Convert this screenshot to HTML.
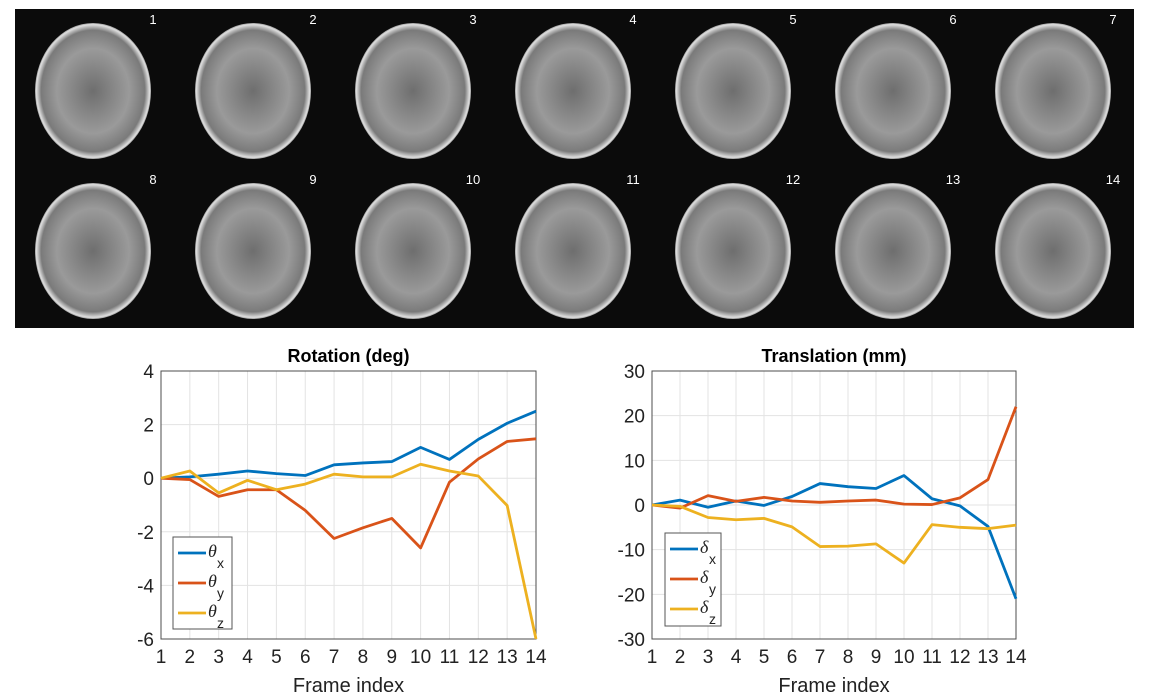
<!DOCTYPE html>
<html><head><meta charset="utf-8"><style>
html,body{margin:0;padding:0;background:#fff;}
svg{display:block;font-family:"Liberation Sans",Arial,sans-serif;}
</style></head><body>
<svg id="root" width="1149" height="699" viewBox="0 0 1149 699">
<defs>
<radialGradient id="brain" cx="50%" cy="50%" r="52%">
<stop offset="0%" stop-color="#6e6e6e"/><stop offset="60%" stop-color="#9a9a9a"/><stop offset="86%" stop-color="#7a7a7a"/><stop offset="94%" stop-color="#e0e0e0"/><stop offset="100%" stop-color="#1a1a1a"/>
</radialGradient>
</defs>
<rect x="15" y="9" width="1119" height="319" fill="#0b0b0b"/>
<g id="frames"></g>
<g id="left"></g>
<g id="right"></g>
</svg>
<script>
const frames = [1,2,3,4,5,6,7,8,9,10,11,12,13,14];
const rotX = [0,0.05,0.15,0.27,0.17,0.1,0.5,0.57,0.62,1.15,0.7,1.45,2.05,2.5];
const rotY = [0,-0.05,-0.68,-0.43,-0.43,-1.2,-2.25,-1.85,-1.5,-2.6,-0.15,0.72,1.37,1.47];
const rotZ = [0,0.27,-0.55,-0.08,-0.43,-0.22,0.15,0.05,0.05,0.52,0.27,0.08,-1.02,-6];
const trX = [0,1.1,-0.5,0.9,-0.1,1.9,4.8,4.1,3.7,6.6,1.4,-0.2,-4.8,-21];
const trY = [0,-0.7,2.1,0.8,1.7,0.9,0.6,0.9,1.1,0.2,0.1,1.6,5.7,22];
const trZ = [0,-0.3,-2.8,-3.3,-3,-4.9,-9.3,-9.2,-8.7,-13,-4.4,-5,-5.3,-4.5];
const rotTicks = [-6,-4,-2,0,2,4];
const trTicks = [-30,-20,-10,0,10,20,30];
const NS="http://www.w3.org/2000/svg";
function mk(tag,attrs,parent){const e=document.createElementNS(NS,tag);for(const k in attrs)e.setAttribute(k,attrs[k]);parent.appendChild(e);return e;}

const fg=document.getElementById('frames');
frames.forEach((f,i)=>{
  const col=i%7,row=Math.floor(i/7);
  const cx=15+col*160+80,cy=9+row*160+82;
  const el=mk('ellipse',{cx:cx-2,cy:cy,rx:58,ry:68,fill:'url(#brain)'},fg);
  
  
  const t=mk('text',{x:15+col*160+138,y:9+row*160+15,fill:'#fff','font-size':13,'text-anchor':'middle'},fg);
  t.textContent=f;
  
  
});

const colors=['#0072BD','#D95319','#EDB120'];
function chart(gid,x0,x1,y0,y1,ymin,ymax,ticks,title,series,sym,legend){
  const g=document.getElementById(gid);
  const xs=v=>x0+(v-1)*(x1-x0)/13;
  const ys=v=>y1-(v-ymin)*(y1-y0)/(ymax-ymin);
  frames.forEach(f=>{
    const l=mk('line',{x1:xs(f),x2:xs(f),y1:y0,y2:y1,stroke:'#e3e3e3','stroke-width':1},g);
    
    
    const t=mk('text',{x:xs(f),y:y1+24,'font-size':19,'text-anchor':'middle',fill:'#222'},g);
    t.textContent=f;
    
    
  });
  ticks.forEach(v=>{
    const l=mk('line',{x1:x0,x2:x1,y1:ys(v),y2:ys(v),stroke:'#e3e3e3','stroke-width':1},g);
    
    
    const t=mk('text',{x:x0-7,y:ys(v)+7,'font-size':19,'text-anchor':'end',fill:'#222'},g);
    t.textContent=v;
    
    
  });
  const box=mk('rect',{x:x0,y:y0,width:x1-x0,height:y1-y0,fill:'none',stroke:'#4d4d4d','stroke-width':1},g);
  
  
  series.forEach((s,i)=>{
    const p=mk('polyline',{points:s.map((v,j)=>xs(frames[j])+','+ys(v)).join(' '),fill:'none',stroke:colors[i],'stroke-width':2.8,'stroke-linejoin':'round'},g);
    
    
  });
  const tt=mk('text',{x:(x0+x1)/2,y:y0-9,'font-size':18,'font-weight':'bold','text-anchor':'middle',fill:'#000'},g);
  tt.textContent=title;
  
  
  const xl=mk('text',{x:(x0+x1)/2,y:y1+53,'font-size':20,'text-anchor':'middle',fill:'#222'},g);
  xl.textContent='Frame index';
  
  
  const [lx,ly,lw,lh]=legend;
  const lb=mk('rect',{x:lx,y:ly,width:lw,height:lh,fill:'#fff',stroke:'#555','stroke-width':1},g);
  
  
  ['x','y','z'].forEach((a,i)=>{
    const yy=ly+16+i*30;
    const ll=mk('line',{x1:lx+5,x2:lx+33,y1:yy,y2:yy,stroke:colors[i],'stroke-width':2.8},g);
    
    
    const t=mk('text',{x:lx+35,y:yy+4,'font-size':18,'font-style':'italic',fill:'#222','font-family':'"Liberation Serif",serif'},g);
    t.textContent=sym;
    
    
    const s=mk('text',{x:lx+44,y:yy+15,'font-size':14,fill:'#222'},g);
    s.textContent=a;
    
    
  });
}
chart('left',161,536,371,639,-6,4,rotTicks,'Rotation (deg)',[rotX,rotY,rotZ],'θ',[173,537,59,92]);
chart('right',652,1016,371,639,-30,30,trTicks,'Translation (mm)',[trX,trY,trZ],'δ',[665,533,56,93]);
</script>
</body></html>
